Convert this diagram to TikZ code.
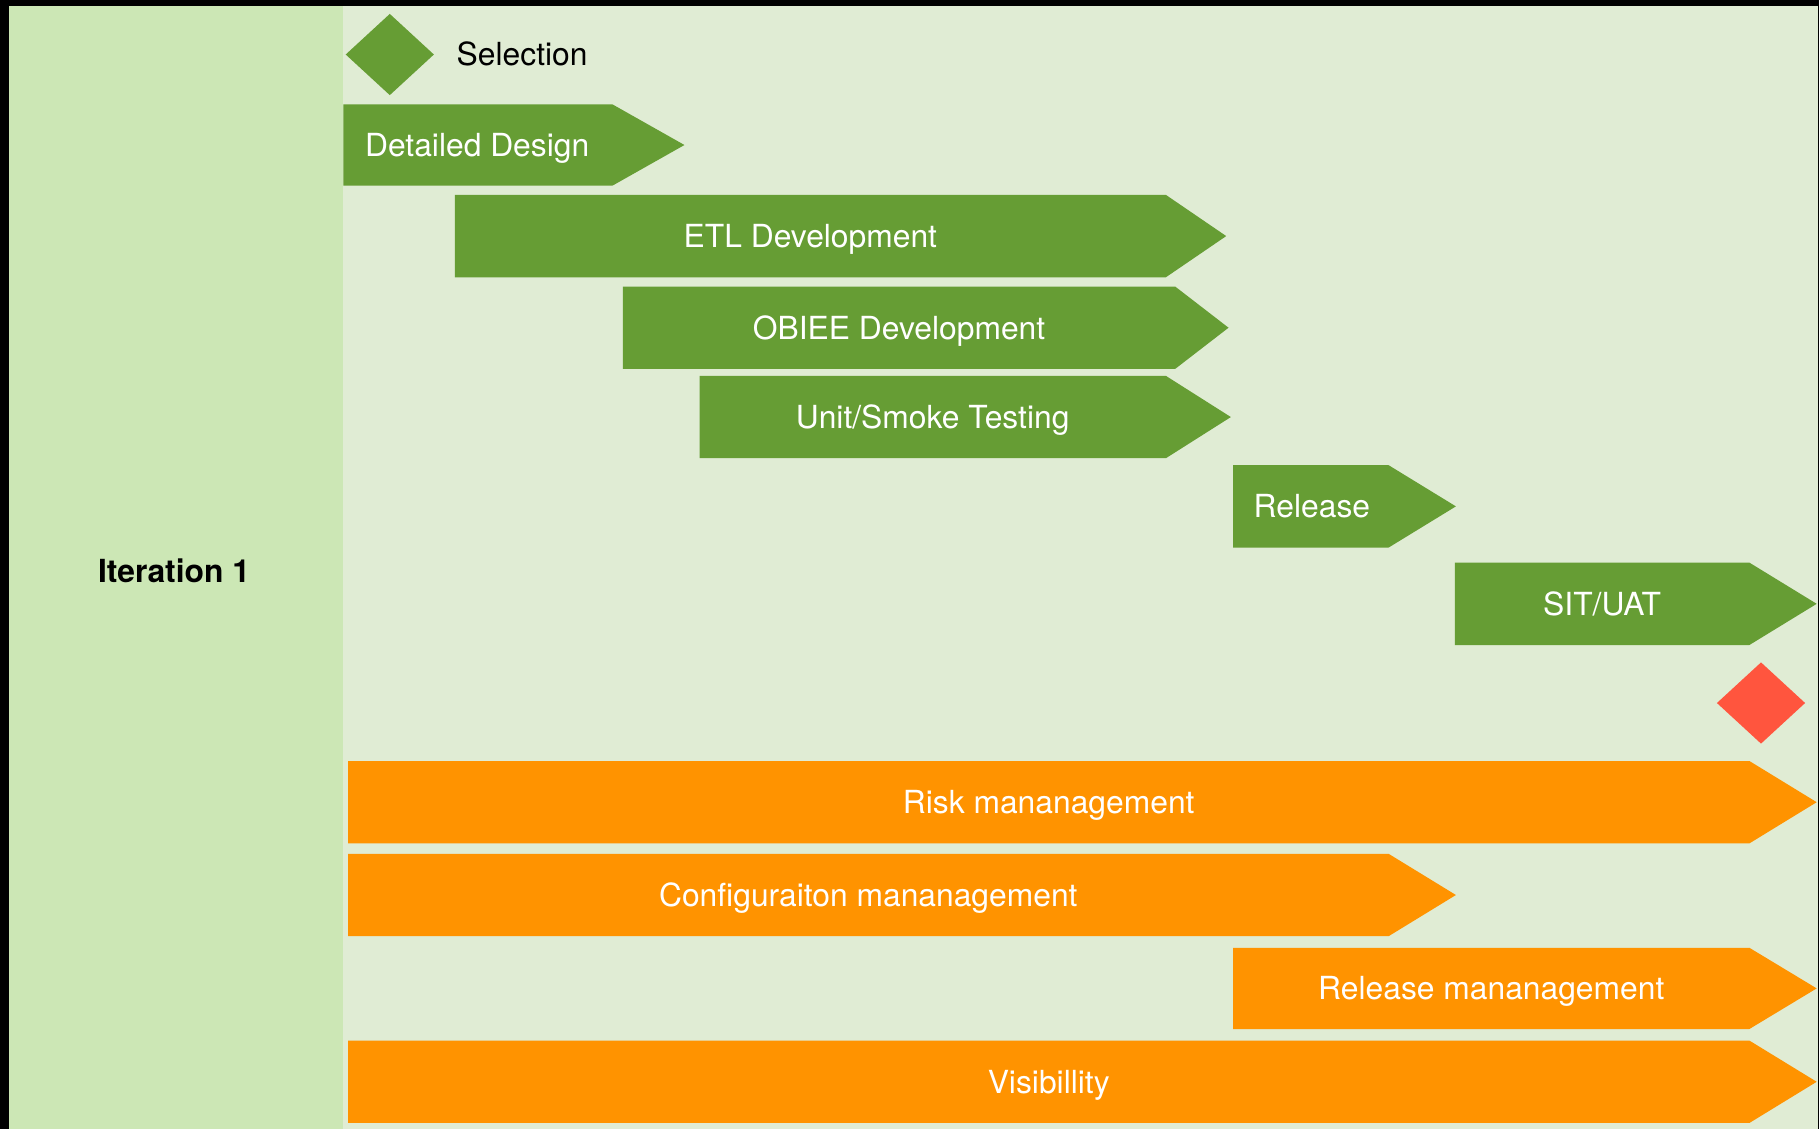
\documentclass[tikz,border=0pt]{standalone}
\usepackage{fontspec}
\setmainfont{TeX Gyre Heros}
\definecolor{iterbg}{HTML}{CCE7B5}
\definecolor{chartbg}{HTML}{E0ECD4}
\definecolor{taskgreen}{HTML}{669D34}
\definecolor{taskorange}{HTML}{FF9300}
\definecolor{gatered}{HTML}{FF553E}
\tikzset{
    label text/.style={inner sep=0pt, text height=1.97mm, text depth=0pt,
        font=\fontsize{7.8}{9}\selectfont},
    bar text/.style={label text, text=white},
}
\begin{document}
\begin{tikzpicture}[y=-1cm]
    \useasboundingbox (0,0) rectangle (15.68,9.73);
    % background
    \fill[black] (0,0) rectangle (15.68,9.73);
    \fill[iterbg] (0.08,0.05) rectangle (2.96,9.73);
    \fill[chartbg] (2.96,0.05) rectangle (15.67,9.73);
    \node[label text, font=\fontsize{7.8}{9}\selectfont\bfseries] (iter) at (1.50,4.92) {Iteration 1};

    % milestones
    \fill[taskgreen] (2.98,0.47) -- (3.36,0.12) -- (3.74,0.47) -- (3.36,0.82) -- cycle;
    \node[label text, anchor=west] (selection) at (3.93,0.47) {Selection};
    \fill[gatered] (14.80,6.06) -- (15.18,5.71) -- (15.56,6.06) -- (15.18,6.41) -- cycle;

    % development tasks
    \fill[taskgreen] (2.96,0.90) -- (5.28,0.90) -- (5.90,1.25) -- (5.28,1.60) -- (2.96,1.60) -- cycle;
    \node[bar text, anchor=west] (design) at (3.14,1.25) {Detailed Design};
    \fill[taskgreen] (3.92,1.68) -- (10.05,1.68) -- (10.57,2.035) -- (10.05,2.39) -- (3.92,2.39) -- cycle;
    \node[bar text] (etl) at (6.985,2.035) {ETL Development};
    \fill[taskgreen] (5.37,2.47) -- (10.13,2.47) -- (10.59,2.825) -- (10.13,3.18) -- (5.37,3.18) -- cycle;
    \node[bar text] (obiee) at (7.75,2.825) {OBIEE Development};
    \fill[taskgreen] (6.03,3.24) -- (10.05,3.24) -- (10.61,3.595) -- (10.05,3.95) -- (6.03,3.95) -- cycle;
    \node[bar text] (unittest) at (8.04,3.595) {Unit/Smoke Testing};
    \fill[taskgreen] (10.63,4.01) -- (11.97,4.01) -- (12.55,4.365) -- (11.97,4.72) -- (10.63,4.72) -- cycle;
    \node[bar text, anchor=west] (release) at (10.80,4.365) {Release};
    \fill[taskgreen] (12.54,4.85) -- (15.08,4.85) -- (15.66,5.205) -- (15.08,5.56) -- (12.54,5.56) -- cycle;
    \node[bar text] (sit) at (13.81,5.205) {SIT/UAT};

    % management tasks
    \fill[taskorange] (3.00,6.56) -- (15.08,6.56) -- (15.66,6.915) -- (15.08,7.27) -- (3.00,7.27) -- cycle;
    \node[bar text] (risk) at (9.04,6.915) {Risk mananagement};
    \fill[taskorange] (3.00,7.36) -- (11.97,7.36) -- (12.55,7.715) -- (11.97,8.07) -- (3.00,8.07) -- cycle;
    \node[bar text] (config) at (7.485,7.715) {Configuraiton mananagement};
    \fill[taskorange] (10.63,8.17) -- (15.08,8.17) -- (15.66,8.52) -- (15.08,8.87) -- (10.63,8.87) -- cycle;
    \node[bar text] (relmgmt) at (12.855,8.52) {Release mananagement};
    \fill[taskorange] (3.00,8.97) -- (15.08,8.97) -- (15.66,9.325) -- (15.08,9.68) -- (3.00,9.68) -- cycle;
    \node[bar text] (visibility) at (9.04,9.325) {Visibillity};
\end{tikzpicture}
\end{document}
